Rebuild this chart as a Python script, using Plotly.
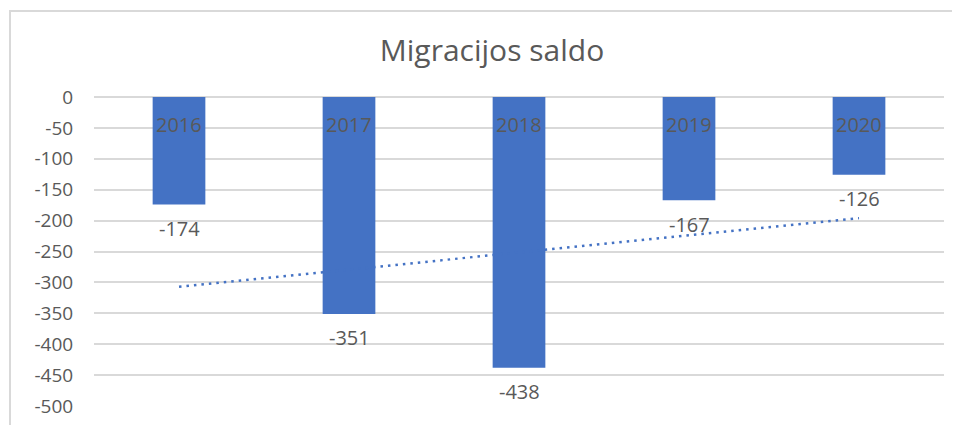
import plotly.graph_objects as go

years = [2016, 2017, 2018, 2019, 2020]
saldo = [-174, -351, -438, -167, -126]
trend_x = [2016, 2020]
trend_y = [-307, -196]
y_ticks = [0, -50, -100, -150, -200, -250, -300, -350, -400, -450, -500]

BAR = "#4472C4"
TXT = "#595959"
GRID = "#D9D9D9"
FONT = "Open Sans, Noto Sans, sans-serif"

# page body adds an 8px offset; figure is sized to compensate
W, H = 952, 417
L, T, R, B = 86, 89, 16, 19

fig = go.Figure()
fig.add_trace(go.Scatter(
    x=trend_x, y=trend_y, mode="lines",
    line=dict(color=BAR, width=2.5, dash="2.5px,5px"),
    hoverinfo="skip", showlegend=False,
))
fig.add_trace(go.Bar(
    x=years, y=saldo, marker=dict(color=BAR, line=dict(width=0)),
    showlegend=False,
))

# data labels below bar ends
for x, v in zip(years, saldo):
    fig.add_annotation(x=x, y=v, text=str(v), showarrow=False,
                       yshift=-24, font=dict(family=FONT, size=20, color=TXT))
# category labels just below the zero axis
for x in years:
    fig.add_annotation(x=x, y=0, text=str(x), showarrow=False,
                       yshift=-27, font=dict(family=FONT, size=20, color=TXT))

pw, ph = W - L - R, H - T - B
fig.add_shape(type="rect", xref="paper", yref="paper",
              x0=(2 - L) / pw, x1=1.2, y0=-0.3, y1=1 + (T - 3) / ph,
              line=dict(color=GRID, width=2), fillcolor="rgba(0,0,0,0)", layer="below")

fig.update_layout(
    width=W, height=H,
    margin=dict(l=L, r=R, t=T, b=B),
    paper_bgcolor="white", plot_bgcolor="white",
    bargap=0.69,
    title=dict(text="Migracijos saldo", x=484 / W, xanchor="center",
               y=1 - 42 / H, yanchor="middle", yref="container",
               font=dict(family=FONT, size=30, color=TXT)),
    xaxis=dict(range=[2015.5, 2020.5], showticklabels=False, ticks="",
               showgrid=False, showline=False, zeroline=False, automargin=False),
    yaxis=dict(range=[-500, 0], tickvals=y_ticks, ticktext=[str(t) for t in y_ticks],
               showgrid=True, gridcolor=GRID, gridwidth=2,
               zeroline=True, zerolinecolor=GRID, zerolinewidth=2,
               ticks="outside", ticklen=16, tickcolor="rgba(0,0,0,0)",
               showline=False, automargin=False,
               tickfont=dict(family=FONT, size=19, color=TXT)),
)

fig.write_html("out.html")
